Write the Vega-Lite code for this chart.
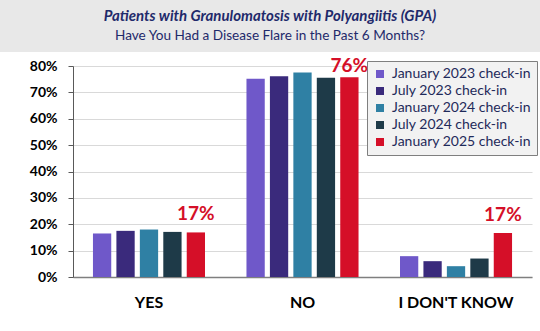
{
  "$schema": "https://vega.github.io/schema/vega-lite/v6.json",
  "padding": 0,
  "spacing": 5,
  "columns": 1,
  "background": "white",
  "config": {"font": "Lato", "view": {"stroke": null}},
  "resolve": {"scale": {"color": "independent", "y": "independent", "x": "independent"}, "legend": {"color": "independent"}},
  "concat": [
    {
      "width": 540,
      "height": 52,
      "data": {"values": [
        {"line": 1, "text": "Patients with Granulomatosis with Polyangiitis (GPA)"},
        {"line": 2, "text": "Have You Had a Disease Flare in the Past 6 Months?"}
      ]},
      "layer": [
        {"mark": {"type": "rect", "color": "#e8e8e8"}, "encoding": {}},
        {"transform": [{"filter": "datum.line == 1"}], "mark": {"type": "text", "fontWeight": "bold", "fontStyle": "italic", "fontSize": 15, "color": "#1F2A6B"},
         "encoding": {"y": {"field": "line", "type": "ordinal", "scale": {"type": "point", "domain": [1, 2], "padding": 0.8}, "axis": null}, "text": {"field": "text"}}},
        {"transform": [{"filter": "datum.line == 2"}], "mark": {"type": "text", "fontSize": 13.6, "color": "#1F2A6B"},
         "encoding": {"y": {"field": "line", "type": "ordinal", "scale": {"type": "point", "domain": [1, 2], "padding": 0.8}, "axis": null}, "text": {"field": "text"}}}
      ]
    },
    {
      "width": 532,
      "height": 211,
      "data": {"values": [
        {"answer": "YES", "period": "January 2023 check-in", "value": 0.165},
        {"answer": "YES", "period": "July 2023 check-in", "value": 0.175},
        {"answer": "YES", "period": "January 2024 check-in", "value": 0.18},
        {"answer": "YES", "period": "July 2024 check-in", "value": 0.171},
        {"answer": "YES", "period": "January 2025 check-in", "value": 0.169},
        {"answer": "NO", "period": "January 2023 check-in", "value": 0.752},
        {"answer": "NO", "period": "July 2023 check-in", "value": 0.761},
        {"answer": "NO", "period": "January 2024 check-in", "value": 0.775},
        {"answer": "NO", "period": "July 2024 check-in", "value": 0.755},
        {"answer": "NO", "period": "January 2025 check-in", "value": 0.757},
        {"answer": "I DON'T KNOW", "period": "January 2023 check-in", "value": 0.079},
        {"answer": "I DON'T KNOW", "period": "July 2023 check-in", "value": 0.06},
        {"answer": "I DON'T KNOW", "period": "January 2024 check-in", "value": 0.041},
        {"answer": "I DON'T KNOW", "period": "July 2024 check-in", "value": 0.07},
        {"answer": "I DON'T KNOW", "period": "January 2025 check-in", "value": 0.167}
      ]},
      "encoding": {
        "x": {
          "field": "answer", "type": "nominal", "sort": ["YES", "NO", "I DON'T KNOW"],
          "scale": {"range": [73, 532], "paddingInner": 0.27, "paddingOuter": 0.13},
          "axis": {"title": null, "labelAngle": 0, "labelFontWeight": "bold", "labelFontSize": 16, "labelColor": "black", "labelPadding": 17, "ticks": false, "domainColor": "#7f7f7f", "domainWidth": 1.5}
        },
        "xOffset": {
          "field": "period", "type": "nominal",
          "sort": ["January 2023 check-in", "July 2023 check-in", "January 2024 check-in", "July 2024 check-in", "January 2025 check-in"],
          "scale": {"paddingInner": 0.22}
        },
        "y": {
          "field": "value", "type": "quantitative",
          "scale": {"domain": [0, 0.8]},
          "axis": {"title": null, "offset": -73, "format": ".0%", "values": [0, 0.1, 0.2, 0.3, 0.4, 0.5, 0.6, 0.7, 0.8], "labelFontWeight": "bold", "labelFontSize": 14, "labelColor": "black", "gridColor": "#d9d9d9", "domainColor": "#595959", "tickColor": "#595959", "tickSize": 5, "labelPadding": 11}
        }
      },
      "layer": [
        {
          "mark": {"type": "bar"},
          "encoding": {
            "color": {
              "field": "period", "type": "nominal",
              "sort": ["January 2023 check-in", "July 2023 check-in", "January 2024 check-in", "July 2024 check-in", "January 2025 check-in"],
              "scale": {
                "domain": ["January 2023 check-in", "July 2023 check-in", "January 2024 check-in", "July 2024 check-in", "January 2025 check-in"],
                "range": ["#6F58C9", "#3A2A7C", "#2F80A4", "#1E3A48", "#D50F28"]
              },
              "legend": {"title": null, "orient": "top-right", "offset": -5, "fillColor": "#f2f2f2", "strokeColor": "#7f7f7f", "padding": 6, "symbolType": "square", "symbolSize": 64, "symbolStrokeWidth": 0, "labelFontSize": 14, "labelColor": "#1F2A5A", "rowPadding": 3, "labelOffset": 5}
            }
          }
        },
        {
          "transform": [{"filter": "datum.period == 'January 2025 check-in' && datum.answer != 'NO'"}],
          "mark": {"type": "text", "dy": -12, "baseline": "alphabetic", "fontSize": 19, "fontWeight": "bold", "color": "#D50F28"},
          "encoding": {"text": {"field": "value", "format": ".0%"}}
        },
        {
          "transform": [{"filter": "datum.period == 'January 2025 check-in' && datum.answer == 'NO'"}],
          "mark": {"type": "text", "dy": -5, "baseline": "alphabetic", "fontSize": 19, "fontWeight": "bold", "color": "#D50F28"},
          "encoding": {"text": {"field": "value", "format": ".0%"}}
        }
      ]
    }
  ]
}
